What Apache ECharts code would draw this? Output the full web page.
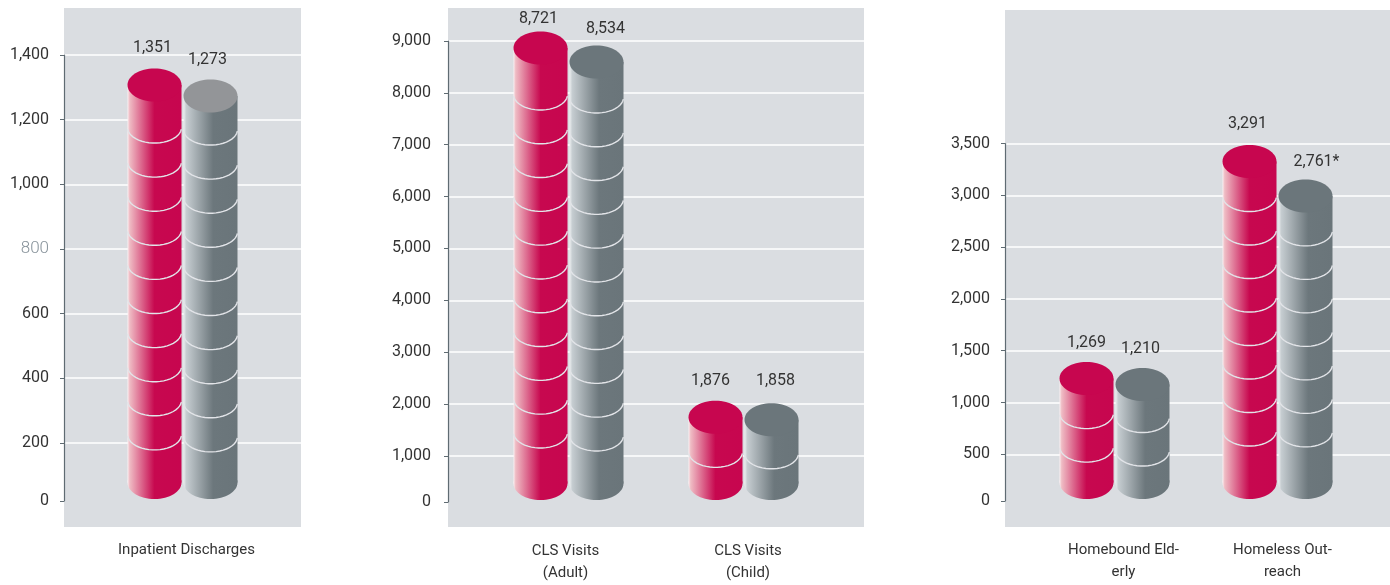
<!DOCTYPE html>
<html><head><meta charset="utf-8">
<style>html,body{margin:0;padding:0;background:#fff}#c{width:1390px;height:585px}</style>
<script src="https://cdn.jsdelivr.net/npm/echarts@6/dist/echarts.min.js"></script>
</head><body><div id="c"></div>
<script>
// Printed numbers above the cylinders.
const printedInpatientRed = [1351];
const printedInpatientGray = [1273];
const printedClsRed = [8721, 1876];
const printedClsGray = [8534, 1858];
const printedOutreachRed = [1269, 3291];
const printedOutreachGray = [1210, 2761];
// Cylinder heights read against each axis. The source art is not drawn to scale,
// so these differ from the printed numbers (most visibly the 2,761* bar).
const heightInpatientRed = [1307];
const heightInpatientGray = [1273];
const heightClsRed = [8865, 1742];
const heightClsGray = [8595, 1694];
const heightOutreachRed = [1231, 3326];
const heightOutreachGray = [1174, 2994];

const categoriesInpatient = ['Inpatient Discharges'];
const categoriesCls = ['CLS Visits\n(Adult)', 'CLS Visits\n(Child)'];
const categoriesOutreach = ['Homebound Eld-\nerly', 'Homeless Out-\nreach'];

const tickLabelsInpatient = ['0','200','400','600','800','1,000','1,200','1,400'];
const tickLabelsCls = ['0','1,000','2,000','3,000','4,000','5,000','6,000','7,000','8,000','9,000'];
const tickLabelsOutreach = ['0','500','1,000','1,500','2,000','2,500','3,000','3,500'];
// The "0" tick sits closer to the next tick than the even spacing of the source axis
// would put it, so the lowest tick is anchored at the value where the printed 0 falls.
const tickValuesInpatient = [20,200,400,600,800,1000,1200,1400];
const tickValuesCls = [110,1000,2000,3000,4000,5000,6000,7000,8000,9000];
const tickValuesOutreach = [50,500,1000,1500,2000,2500,3000,3500];

const FONT = 'Roboto,"Noto Sans",sans-serif';
const TXT = '#333333';
const RED = {top:'#c7064f', stops:[[0,'#fbeef0'],[0.04,'#efbcc4'],[0.5,'#c7084f'],[1,'#c7064f']]};
const GRAY = {top:'#6b767b', stops:[[0,'#eef0f1'],[0.05,'#c6cdd1'],[0.55,'#6c777c'],[1,'#6a757a']]};

const layouts = [
 {name:'Inpatient', panel:[64,8,237,519], axis:[64,301], bars:[64,301], top:55, bottom:501,
  cats:categoriesInpatient, ticks:tickValuesInpatient, tickLabels:tickLabelsInpatient,
  red:heightInpatientRed, gray:heightInpatientGray, redP:printedInpatientRed, grayP:printedInpatientGray,
  labelMargin:15, ringStep:34.1, ringRed:[58], ringGray:[49], grayTop:'#939598',
  catShift:[8], dxRed:[-2], dxGray:[-3], gapRed:[21], gapGray:[20]},
 {name:'CLS', panel:[448,8,416,519], axis:[448,864], bars:[481,831], top:41, bottom:502,
  cats:categoriesCls, ticks:tickValuesCls, tickLabels:tickLabelsCls,
  red:heightClsRed, gray:heightClsGray, redP:printedClsRed, grayP:printedClsGray,
  labelMargin:17, ringStep:33.8, ringRed:[62,50], ringGray:[51,49], grayTop:GRAY.top,
  catShift:[-6,9], dxRed:[-2,-5], dxGray:[9,4], gapRed:[13,20], gapGray:[17,22]},
 {name:'Outreach', panel:[1005,10,385,517], axis:[1005,1390], bars:[1033,1359], top:143.5, bottom:501,
  cats:categoriesOutreach, ticks:tickValuesOutreach, tickLabels:tickLabelsOutreach,
  red:heightOutreachRed, gray:heightOutreachGray, redP:printedOutreachRed, grayP:printedOutreachGray,
  labelMargin:15, ringStep:33.5, ringRed:[50,50], ringGray:[48,50], grayTop:GRAY.top,
  catShift:[18,10], dxRed:[0,-2], dxGray:[-2,11], gapRed:[19,21], gapGray:[19,17], stars:{gray:{1:'*'}}}
];

const RX = 27, RY = 16.5, BASE_LIFT = 2 + RY;

function fmt(n){ return String(n).replace(/\B(?=(\d{3})+$)/g, ','); }

function cylinder(pal, sign, l, which){
  return function(params, api){
    const i = api.value(0);
    const c = api.coord([i, api.value(1)]);
    const b = api.coord([i, l.ticks[0]]);
    const cx = c[0] + sign * 28;
    const yTop = c[1];
    const yBase = b[1] - BASE_LIFT;
    const grad = new echarts.graphic.LinearGradient(cx-RX,0,cx+RX,0,
      pal.stops.map(s => ({offset:s[0], color:s[1]})), true);
    const kids = [
      {type:'rect', shape:{x:cx-RX,y:yTop,width:2*RX,height:yBase-yTop}, style:{fill:grad}},
      {type:'ellipse', shape:{cx:cx,cy:yBase,rx:RX,ry:RY}, style:{fill:grad}}
    ];
    const first = (which==='red'?l.ringRed:l.ringGray)[i];
    for (let y = yTop + first; y <= 470; y += l.ringStep) {
      const pts = [];
      for (let t = 6; t <= 174; t += 8) {
        const a = t*Math.PI/180;
        pts.push([cx + RX*Math.cos(a), y - 15.5 + 15.5*Math.sin(a)]);
      }
      kids.push({type:'polyline', shape:{points:pts}, style:{fill:null, stroke:'#e2e4e8', lineWidth:1.4}});
    }
    kids.push({type:'ellipse', shape:{cx:cx,cy:yTop,rx:RX,ry:RY},
      style:{fill: which==='gray' ? l.grayTop : pal.top}});
    const star = l.stars && l.stars[which] && l.stars[which][i] || '';
    const dx = (which==='red'?l.dxRed:l.dxGray)[i];
    const gap = (which==='red'?l.gapRed:l.gapGray)[i];
    kids.push({type:'text', style:{text:fmt(api.value(2))+star, x:cx+dx, y:yTop-RY-gap,
      align:'center', verticalAlign:'middle', fill:TXT, fontFamily:FONT, fontSize:16}});
    return {type:'group', children:kids};
  };
}

const grid=[], xAxis=[], yAxis=[], series=[], graphicEls=[];
layouts.forEach((l) => {
  graphicEls.push({type:'rect', z:-100, silent:true,
    shape:{x:l.panel[0],y:l.panel[1],width:l.panel[2],height:l.panel[3]}, style:{fill:'#dadde1'}});
  const gi = grid.length;
  grid.push({left:l.axis[0], width:l.axis[1]-l.axis[0], top:l.top, height:l.bottom-l.top});
  grid.push({left:l.bars[0], width:l.bars[1]-l.bars[0], top:l.top, height:l.bottom-l.top});
  const lo = l.ticks[0], hi = l.ticks[l.ticks.length-1];
  xAxis.push({gridIndex:gi, type:'category', data:l.cats, show:false});
  yAxis.push({gridIndex:gi, type:'value', min:lo, max:hi, position:'left',
    axisLine:{show:true, lineStyle:{color:'#5f6b72', width:1.2}},
    axisTick:{show:true, length:4, customValues:l.ticks, lineStyle:{color:'#5f6b72', width:1}},
    splitLine:{show:true, showMinLine:false, lineStyle:{color:'#ffffff', width:1.6}},
    axisLabel:{show:true, customValues:l.ticks, margin:l.labelMargin, showMinLabel:true, showMaxLabel:true,
      color:TXT, fontFamily:FONT, fontSize:16,
      formatter:(v)=>{ const s=l.tickLabels[l.ticks.indexOf(v)]; return s==='800' ? '{light|800}' : s; },
      rich:{light:{color:'#87929a', fontFamily:FONT, fontWeight:300, fontSize:17}}}
  });
  const rich = {};
  l.catShift.forEach((p,i)=>{ rich['c'+i] = {padding:p>0?[0,0,0,p]:[0,-p,0,0], color:TXT, fontFamily:FONT, fontSize:15, lineHeight:22}; });
  xAxis.push({gridIndex:gi+1, type:'category', data:l.cats,
    axisLine:{show:false}, axisTick:{show:false}, splitLine:{show:false},
    axisLabel:{margin:38, interval:0, color:TXT, fontFamily:FONT, fontSize:15, lineHeight:22,
      formatter:(v,i)=>v.split('\n').map(t=>`{c${i}|${t}}`).join('\n'), rich}});
  yAxis.push({gridIndex:gi+1, type:'value', min:lo, max:hi, show:false, splitLine:{show:false}});
  [[l.red,l.redP,RED,-1,'red'],[l.gray,l.grayP,GRAY,1,'gray']].forEach(s => {
    series.push({type:'custom', name:l.name+' '+s[4], xAxisIndex:gi+1, yAxisIndex:gi+1, clip:false, silent:true, z:5,
      data:s[0].map((h,i)=>[i,h,s[1][i]]), encode:{x:0,y:1},
      renderItem:cylinder(s[2],s[3],l,s[4])});
  });
});

const chart = echarts.init(document.getElementById('c'), null, {renderer:'canvas'});
chart.setOption({animation:false, backgroundColor:'#fff', tooltip:{show:false},
  graphic:{elements:graphicEls}, grid, xAxis, yAxis, series});
</script></body></html>
